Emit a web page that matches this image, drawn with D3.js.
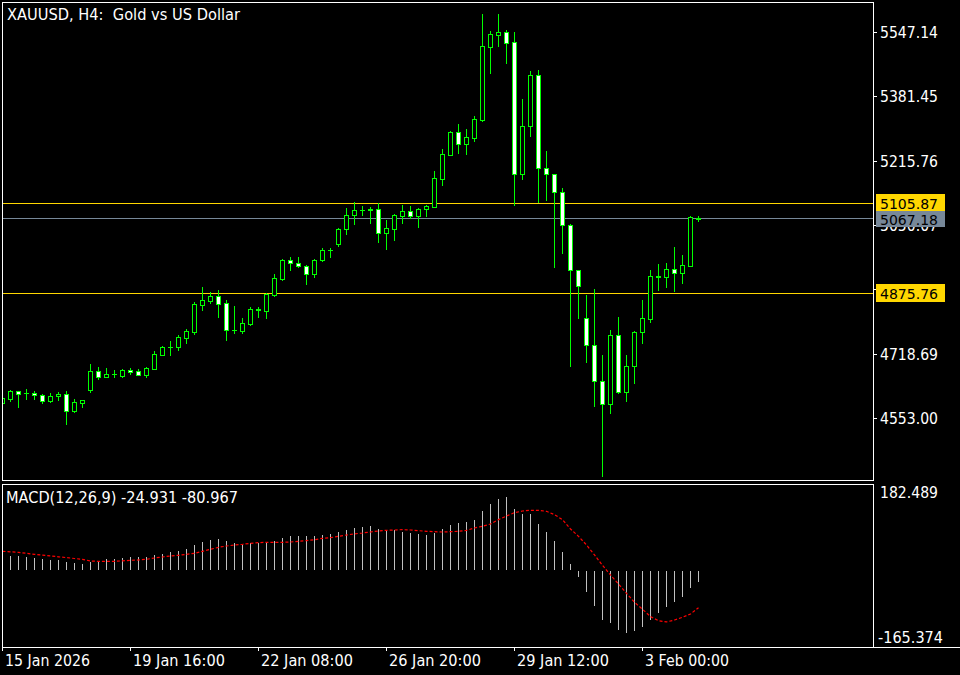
<!DOCTYPE html>
<html><head><meta charset="utf-8">
<script src="https://cdn.jsdelivr.net/npm/d3@7"></script>
<style>html,body{margin:0;padding:0;background:#000;overflow:hidden} text{white-space:pre}</style>
</head><body>
<svg id="c" width="960" height="675"></svg>
<script>
// ---- DATA (XAUUSD H4) ----
const opens = [4591.8,4602.9,4622.0,4617.6,4616.8,4611.7,4597.8,4609.1,4615.0,4571.2,4591.1,4626.1,4673.4,4659.5,4665.7,4662.1,4676.8,4674.2,4664.7,4680.1,4716.2,4735.2,4736.8,4759.9,4775.4,4844.9,4854.4,4866.5,4849.2,4780.5,4777.9,4796.0,4833.0,4829.4,4870.6,4911.8,4959.2,4951.4,4943.7,4923.1,4959.2,4985.7,5000.3,5038.9,5075.0,5087.9,5089.4,5090.4,5028.7,5040.5,5074.0,5086.0,5074.0,5090.4,5097.1,5169.2,5231.0,5289.4,5259.3,5274.7,5320.3,5509.0,5539.8,5546.8,5520.3,5180.5,5304.1,5435.3,5196.0,5180.5,5134.2,5049.2,4933.4,4809.9,4740.4,4647.2,4588.5,4766.1,4620.9,4686.3,4773.8,4808.8,4918.0,4916.9,4936.0,4927.2,4945.3,5066.5];
const highs = [4609.9,4625.3,4623.5,4627.9,4622.0,4615.8,4617.6,4620.2,4622.7,4601.4,4599.6,4693.0,4684.5,4681.9,4676.8,4679.4,4681.2,4679.4,4684.5,4725.7,4738.6,4751.4,4766.1,4782.3,4851.8,4890.4,4876.8,4882.7,4857.0,4841.5,4810.6,4838.9,4838.9,4875.8,4923.9,4962.5,4967.6,4967.6,4945.8,4961.7,4990.0,4990.8,5041.0,5093.0,5108.4,5098.9,5095.6,5105.9,5062.9,5078.3,5101.5,5098.9,5092.5,5101.5,5189.0,5245.6,5292.0,5310.0,5297.1,5330.6,5593.1,5549.4,5593.1,5551.9,5546.8,5374.3,5446.4,5449.0,5240.5,5181.3,5146.0,5052.6,4934.2,4869.8,4885.3,4715.4,4779.7,4813.2,4715.4,4775.9,4857.0,4934.2,4949.6,4952.2,4993.4,4972.8,5073.2,5073.2];
const lows = [4586.7,4597.8,4582.3,4602.9,4601.4,4592.6,4594.4,4600.3,4538.6,4567.9,4582.3,4620.9,4654.4,4658.8,4659.5,4659.5,4667.3,4663.9,4659.5,4678.1,4714.1,4716.2,4729.0,4746.3,4770.2,4831.2,4849.2,4813.2,4754.8,4772.8,4772.8,4793.4,4814.0,4811.4,4868.0,4908.4,4935.0,4942.7,4898.9,4916.9,4957.4,4968.4,4996.7,5027.6,5051.8,5075.0,5054.4,5007.0,4989.0,5011.4,5055.9,5067.3,5045.6,5074.0,5096.3,5153.0,5230.2,5236.1,5233.5,5267.0,5317.7,5442.0,5511.5,5467.8,5102.3,5169.2,5279.9,5110.0,5114.4,4942.7,4978.7,4687.9,4811.4,4698.1,4584.9,4403.9,4564.8,4618.3,4597.8,4644.1,4747.1,4801.1,4882.7,4891.2,4880.9,4901.5,4944.5,5061.1];
const closes = [4604.7,4622.0,4615.8,4616.8,4611.7,4597.8,4609.9,4615.8,4572.0,4594.4,4598.8,4673.4,4659.5,4666.5,4666.5,4676.0,4670.9,4664.7,4681.9,4717.2,4736.0,4736.0,4761.0,4777.2,4846.7,4857.0,4866.5,4847.4,4780.5,4779.7,4797.8,4833.8,4832.0,4872.4,4913.6,4959.2,4951.4,4943.7,4923.1,4959.2,4984.9,4986.4,5038.9,5075.0,5087.9,5088.6,5090.4,5028.7,5041.5,5075.8,5086.0,5074.0,5091.2,5098.9,5170.2,5232.8,5289.4,5259.3,5276.5,5322.9,5510.8,5541.6,5546.8,5519.3,5180.5,5304.1,5435.3,5196.0,5180.5,5134.2,5049.2,4933.4,4892.2,4740.4,4647.7,4588.5,4766.1,4620.9,4686.3,4773.8,4809.9,4918.0,4916.9,4936.0,4927.2,4946.3,5069.8,5067.18];
const macdHist = [31.5,30.8,30.8,28.6,26.5,23.6,21.5,21.5,17.2,15.0,12.9,17.9,20.0,23.6,23.6,26.5,28.6,28.6,28.6,32.9,34.4,38.6,41.5,45.1,53.7,60.1,64.4,67.3,63.0,58.0,55.8,58.0,58.0,58.7,62.3,68.7,73.7,73.7,73.7,73.7,75.9,78.0,82.3,86.6,90.9,92.3,94.5,88.0,85.2,85.2,81.6,79.4,77.3,75.1,79.4,88.0,96.6,100.9,103.1,107.4,126.7,141.7,152.4,156.7,131.0,120.2,120.2,98.8,81.6,62.3,38.6,12.9,-14.3,-46.5,-76.6,-106.6,-113.1,-128.1,-134.5,-130.3,-121.7,-106.6,-91.6,-78.7,-68.0,-57.3,-37.9,-24.931];
const macdSignal = [40.1,39.0,37.9,35.8,33.6,31.9,30.1,28.3,26.5,24.7,22.9,19.3,18.6,18.6,18.6,19.7,20.8,21.5,22.9,25.8,27.9,30.1,31.5,33.6,35.8,40.1,44.4,48.7,51.5,53.7,55.1,57.3,58.7,59.4,59.4,59.4,60.1,61.5,63.0,65.1,68.0,69.4,72.3,75.1,77.6,79.4,81.6,83.7,85.2,85.9,86.6,85.9,84.4,83.0,82.3,81.6,82.3,83.0,85.2,90.2,93.8,98.8,108.1,115.9,123.1,126.7,128.1,128.1,126.0,118.8,108.1,88.0,72.3,53.7,32.2,10.0,-10.7,-30.1,-50.1,-69.4,-84.4,-100.2,-108.8,-111.6,-107.4,-101.6,-94.5,-80.967];
const priceTicks = [5547.14,5381.45,5215.76,5050.07,4884.38,4718.69,4553.00];
const priceTickLabels = ["5547.14","5381.45","5215.76","5050.07","4884.38","4718.69","4553.00"];
const dateTickIdx = [0,16,32,48,64,80];
const dateTickLabels = ["15 Jan 2026","19 Jan 16:00","22 Jan 08:00","26 Jan 20:00","29 Jan 12:00","3 Feb 00:00"];
const levelLines = [5105.87,4875.76];
const levelLabels = ["5105.87","4875.76"];
const bidPrice = 5067.18, bidLabel = "5067.18";
const priceDomain = [4393.6,5621.4];
const macdDomain = [-165.374,182.489];
const macdLabels = ["182.489","-165.374"];
const titleText = "XAUUSD, H4:  Gold vs US Dollar";
const macdTitle = "MACD(12,26,9) -24.931 -80.967";

// ---- LAYOUT ----
const svg = d3.select("#c");
const W=960,H=675;
const L=2, R=873, T=2, B=480, MT=484, MB=647;
const FONT = "'DejaVu Sans', 'Liberation Sans', sans-serif";
const GREEN="#00ff00", WHITE="#ffffff", GOLD="#ffd700", SLATE="#778899";
svg.append("rect").attr("width",W).attr("height",H).attr("fill","#000");

const n = opens.length;
const x = d3.scaleLinear().domain([0,n-1]).range([2,2+8*(n-1)]);
const y = d3.scaleLinear().domain(priceDomain).range([B,T+1]);
const ym = d3.scaleLinear().domain(macdDomain).range([MB,MT+1]);

const bidY = Math.round(y(bidPrice));
const defs = svg.append("defs");
defs.append("clipPath").attr("id","cpMain").append("rect").attr("x",L+1).attr("y",T+1).attr("width",R-L-1).attr("height",B-T-1);
defs.append("clipPath").attr("id","cpMacd").append("rect").attr("x",L+1).attr("y",MT+1).attr("width",R-L-1).attr("height",MB-MT-1);

// main plot
const gm = svg.append("g").attr("clip-path","url(#cpMain)").attr("shape-rendering","crispEdges");
gm.selectAll("line.lvl").data(levelLines).join("line").attr("class","lvl")
  .attr("x1",L).attr("x2",R).attr("y1",d=>Math.round(y(d))+0.5).attr("y2",d=>Math.round(y(d))+0.5)
  .attr("stroke",GOLD).attr("stroke-width",1);
gm.append("line").attr("class","bid").attr("x1",L).attr("x2",R)
  .attr("y1",bidY+0.5).attr("y2",bidY+0.5)
  .attr("stroke",SLATE).attr("stroke-width",1);

const idx = d3.range(n);
gm.selectAll("line.wick").data(idx).join("line").attr("class","wick")
  .attr("x1",i=>x(i)+0.5).attr("x2",i=>x(i)+0.5)
  .attr("y1",i=>Math.round(y(highs[i]))).attr("y2",i=>Math.round(y(lows[i]))+1)
  .attr("stroke",GREEN).attr("stroke-width",1);
idx.forEach(i=>{
  const a=Math.round(y(opens[i])), b=Math.round(y(closes[i]));
  const top=Math.min(a,b), bot=Math.max(a,b);
  const bear = closes[i]<opens[i];
  if(bot-top<1){
    gm.append("line").attr("class","doji").attr("x1",x(i)-2).attr("x2",x(i)+3).attr("y1",top+0.5).attr("y2",top+0.5)
      .attr("stroke",GREEN).attr("stroke-width",1);
  } else {
    gm.append("rect").attr("class","body").attr("x",x(i)-1.5).attr("y",top+0.5).attr("width",4).attr("height",bot-top)
      .attr("fill",bear?WHITE:"#000").attr("stroke",GREEN).attr("stroke-width",1);
  }
});

// MACD panel
const gd = svg.append("g").attr("clip-path","url(#cpMacd)");
gd.selectAll("line.hist").data(idx).join("line").attr("class","hist")
  .attr("shape-rendering","crispEdges")
  .attr("x1",i=>x(i)+0.5).attr("x2",i=>x(i)+0.5)
  .attr("y1",i=>macdHist[i]>=0?Math.round(ym(0)):Math.round(ym(0))+1)
  .attr("y2",i=>Math.round(ym(macdHist[i])))
  .attr("stroke","#c0c0c0").attr("stroke-width",1);
gd.append("path").attr("class","signal").datum(idx)
  .attr("d",d3.line().x(i=>x(i)+0.5).y(i=>ym(macdSignal[i])))
  .attr("fill","none").attr("stroke","#ff0000").attr("stroke-width",1.2).attr("stroke-dasharray","3,2");

// frames
const fr = svg.append("g").attr("stroke",WHITE).attr("stroke-width",1).attr("fill","none").attr("shape-rendering","crispEdges");
fr.append("rect").attr("x",L+0.5).attr("y",T+0.5).attr("width",R-L).attr("height",B-T);
fr.append("rect").attr("x",L+0.5).attr("y",MT+0.5).attr("width",R-L).attr("height",MB-MT);
fr.append("line").attr("x1",R).attr("x2",W).attr("y1",MB+0.5).attr("y2",MB+0.5);

// price axis labels; labels under a level box are only visible where the box does not cover them
const boxPrices = levelLines.concat([bidPrice]);
defs.append("clipPath").attr("id","cpUnderBid").append("rect").attr("x",870).attr("y",bidY+9).attr("width",90).attr("height",30);
const ax = svg.append("g").attr("font-family",FONT).attr("font-size",15).attr("fill",WHITE);
priceTicks.forEach((p,k)=>{
  const yy=y(p);
  svg.append("line").attr("x1",R+1).attr("x2",R+4).attr("y1",Math.round(yy)+0.5).attr("y2",Math.round(yy)+0.5)
    .attr("stroke",WHITE).attr("shape-rendering","crispEdges");
  const nearLevel = levelLines.some(b=>Math.abs(y(b)-yy)<10);
  const nearBid = Math.abs(y(bidPrice)-yy)<10;
  if(nearLevel) return;
  const t = ax.append("text").attr("x",880).attr("y",yy+6).attr("textLength",58).attr("lengthAdjust","spacingAndGlyphs").text(priceTickLabels[k]);
  if(nearBid) t.attr("clip-path","url(#cpUnderBid)");
});
// level label boxes
levelLines.forEach((p,k)=>{
  const yy=Math.round(y(p));
  svg.append("rect").attr("x",876).attr("y",yy-9).attr("width",69).attr("height",18).attr("fill",GOLD);
  svg.append("text").attr("x",880).attr("y",yy+5.5).attr("font-family",FONT).attr("font-size",14).attr("fill","#000")
    .attr("textLength",58).attr("lengthAdjust","spacingAndGlyphs").text(levelLabels[k]);
});
svg.append("rect").attr("x",876).attr("y",bidY-7).attr("width",69).attr("height",16).attr("fill",SLATE);
svg.append("text").attr("x",880).attr("y",bidY+6.5).attr("font-family",FONT).attr("font-size",14).attr("fill","#000")
  .attr("textLength",58).attr("lengthAdjust","spacingAndGlyphs").text(bidLabel);

// MACD labels
ax.append("text").attr("x",880).attr("y",ym(macdDomain[1])+13).attr("textLength",58).attr("lengthAdjust","spacingAndGlyphs").text(macdLabels[0]);
ax.append("text").attr("x",878).attr("y",ym(macdDomain[0])-4).attr("textLength",65).attr("lengthAdjust","spacingAndGlyphs").text(macdLabels[1]);

// date axis
dateTickIdx.forEach((i,k)=>{
  svg.append("line").attr("x1",x(i)+0.5).attr("x2",x(i)+0.5).attr("y1",MB).attr("y2",MB+4).attr("stroke",WHITE).attr("shape-rendering","crispEdges");
  ax.append("text").attr("x",x(i)+3).attr("y",666).attr("textLength",k===0?85:(k===5?84:92)).attr("lengthAdjust","spacingAndGlyphs").text(dateTickLabels[k]);
});

// titles
ax.append("text").attr("x",7).attr("y",20).attr("textLength",233).attr("lengthAdjust","spacingAndGlyphs").text(titleText);
ax.append("text").attr("x",6).attr("y",503).attr("textLength",232).attr("lengthAdjust","spacingAndGlyphs").text(macdTitle);
</script>
</body></html>
